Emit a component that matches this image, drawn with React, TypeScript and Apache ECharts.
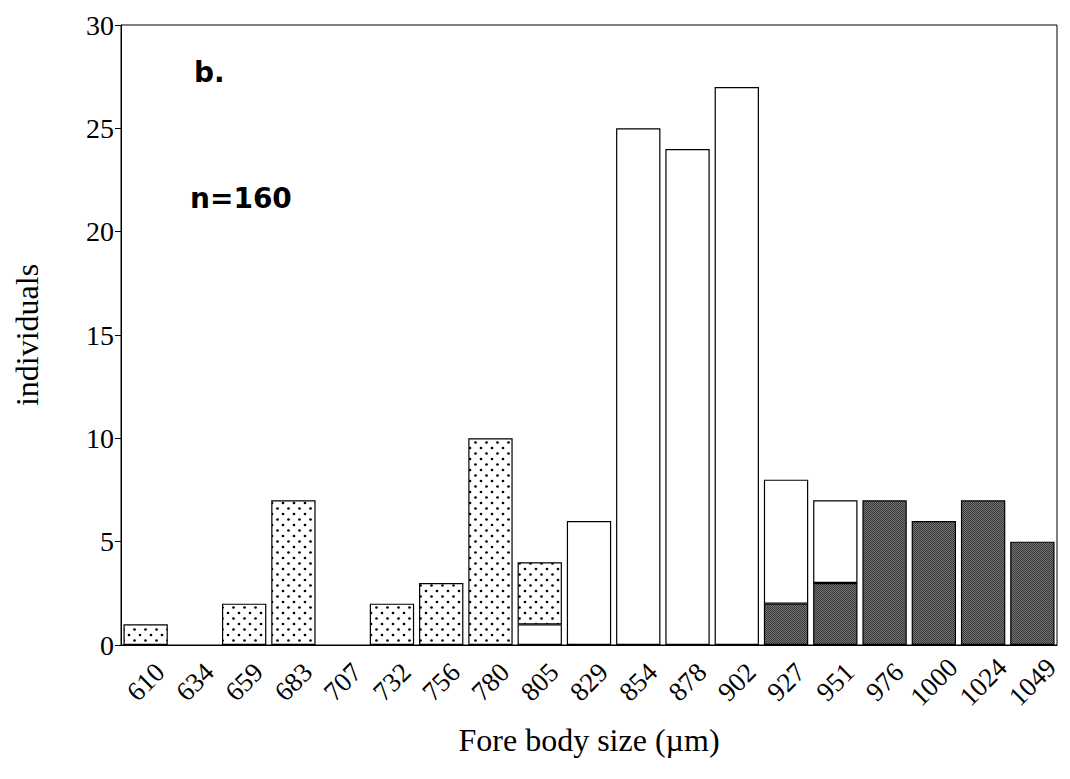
import React, { useEffect, useRef } from "react";
import * as echarts from "echarts";

const categories = ["610", "634", "659", "683", "707", "732", "756", "780", "805", "829", "854", "878", "902", "927", "951", "976", "1000", "1024", "1049"];
const darkValues = [0, 0, 0, 0, 0, 0, 0, 0, 0, 0, 0, 0, 0, 2, 3, 7, 6, 7, 5];
const whiteValues = [0, 0, 0, 0, 0, 0, 0, 0, 1, 6, 25, 24, 27, 6, 4, 0, 0, 0, 0];
const dottedValues = [1, 0, 2, 7, 0, 2, 3, 10, 3, 0, 0, 0, 0, 0, 0, 0, 0, 0, 0];
const yTicks = [0, 5, 10, 15, 20, 25, 30];

const nz = (arr: number[]) => arr.map((v) => (v === 0 ? null : v));

function makeDotPattern(): HTMLCanvasElement {
  const c = document.createElement("canvas");
  c.width = 11;
  c.height = 11;
  const ctx = c.getContext("2d")!;
  ctx.fillStyle = "#fff";
  ctx.fillRect(0, 0, 11, 11);
  ctx.fillStyle = "#000";
  ctx.beginPath();
  ctx.arc(2.5, 2.5, 1.35, 0, Math.PI * 2);
  ctx.fill();
  ctx.beginPath();
  ctx.arc(8, 8, 1.35, 0, Math.PI * 2);
  ctx.fill();
  return c;
}

function makeDarkPattern(): HTMLCanvasElement {
  const c = document.createElement("canvas");
  c.width = 4;
  c.height = 4;
  const ctx = c.getContext("2d")!;
  for (let y = 0; y < 4; y++) {
    for (let x = 0; x < 4; x++) {
      ctx.fillStyle = (x + y) % 2 === 0 ? "#3a3a3a" : "#747474";
      ctx.fillRect(x, y, 1, 1);
    }
  }
  return c;
}

export default function App() {
  const ref = useRef<HTMLDivElement>(null);
  useEffect(() => {
    document.body.style.margin = "0";
    if (!ref.current) return;
    const chart = echarts.init(ref.current, null, { renderer: "svg" });
    const serif = "Liberation Serif";
    const border = { borderColor: "#000", borderWidth: 1.2 };
    chart.setOption({
      animation: false,
      backgroundColor: "#fff",
      grid: { left: 121, right: 13, top: 25, bottom: 134, show: true, borderColor: "#000", borderWidth: 1 },
      xAxis: {
        type: "category",
        data: categories,
        name: "Fore body size (\u00b5m)",
        nameLocation: "middle",
        nameGap: 79,
        nameTextStyle: { fontFamily: serif, fontSize: 32, color: "#000" },
        axisLine: { lineStyle: { color: "#000", width: 1 } },
        axisTick: { alignWithLabel: true, length: 5, lineStyle: { color: "#000" } },
        axisLabel: {
          interval: 0,
          rotate: 45,
          align: "center",
          verticalAlign: "middle",
          margin: 37,
          fontFamily: serif,
          fontSize: 27,
          color: "#000",
        },
      },
      yAxis: {
        type: "value",
        min: yTicks[0],
        max: yTicks[yTicks.length - 1],
        interval: 5,
        name: "individuals",
        nameLocation: "middle",
        nameGap: 78,
        nameTextStyle: { fontFamily: serif, fontSize: 32, color: "#000" },
        axisLine: { show: true, lineStyle: { color: "#000", width: 1 } },
        axisTick: { show: true, length: 6, lineStyle: { color: "#000" } },
        axisLabel: { fontFamily: serif, fontSize: 28, color: "#000", margin: 7 },
        splitLine: { show: false },
      },
      series: [
        {
          name: "dark",
          type: "bar",
          stack: "a",
          data: nz(darkValues),
          barCategoryGap: "10%",
          itemStyle: { color: { image: makeDarkPattern(), repeat: "repeat" }, ...border },
        },
        {
          name: "white",
          type: "bar",
          stack: "a",
          data: nz(whiteValues),
          itemStyle: { color: "#fff", ...border },
        },
        {
          name: "dotted",
          type: "bar",
          stack: "a",
          data: nz(dottedValues),
          itemStyle: { color: { image: makeDotPattern(), repeat: "repeat" }, ...border },
        },
      ],
      graphic: [
        { type: "text", x: 194, y: 72, style: { text: "b.", fontFamily: "DejaVu Sans", fontWeight: "bold", fontSize: 28, fill: "#000", verticalAlign: "middle" } },
        { type: "text", x: 190, y: 198, style: { text: "n=160", fontFamily: "DejaVu Sans", fontWeight: "bold", fontSize: 28, fill: "#000", verticalAlign: "middle" } },
      ],
    });
    return () => chart.dispose();
  }, []);
  return <div ref={ref} style={{ width: 1070, height: 779 }} />;
}
